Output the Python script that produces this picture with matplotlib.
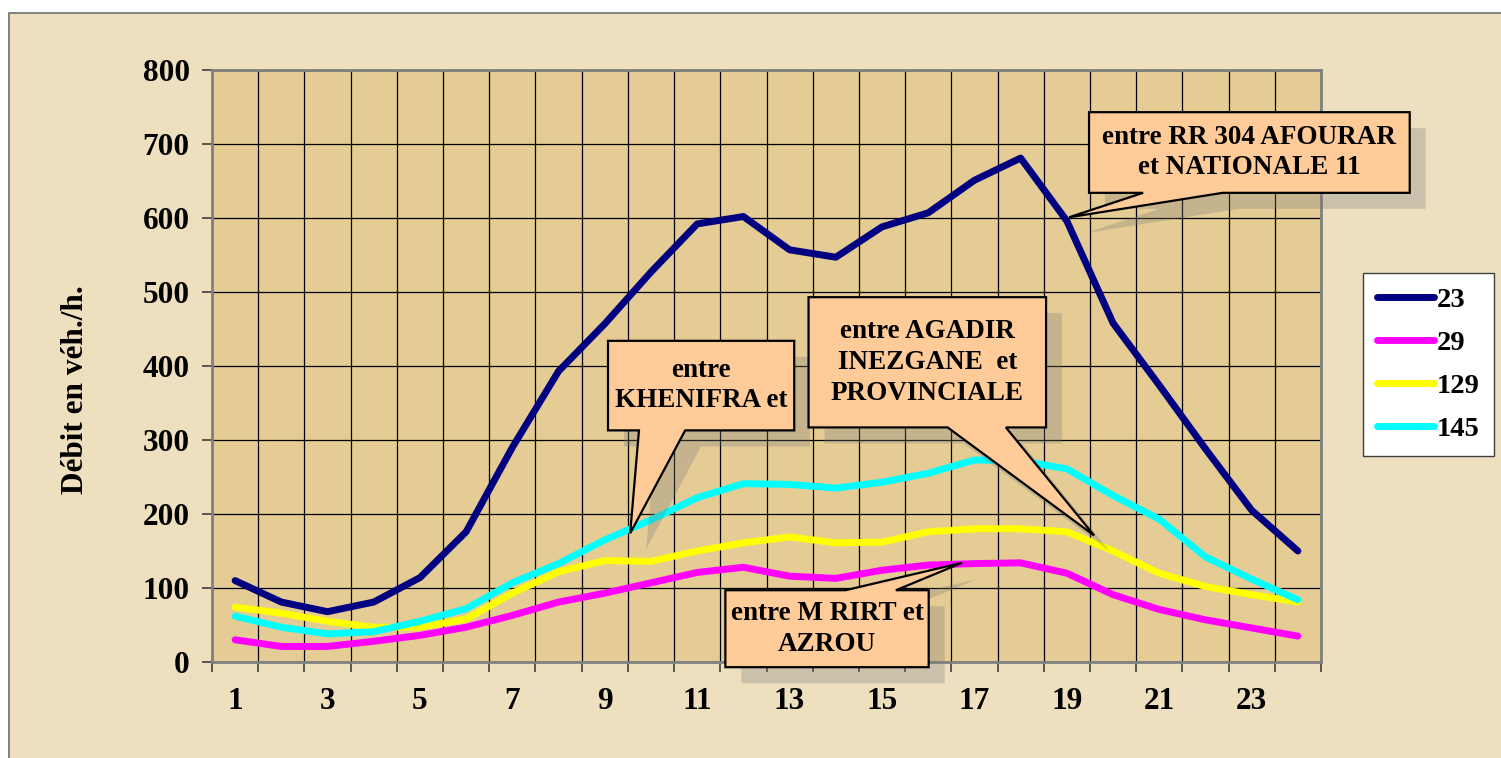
import numpy as np
import matplotlib
matplotlib.use('Agg')
import matplotlib.pyplot as plt
from matplotlib.patches import Polygon, Rectangle
from matplotlib.transforms import ScaledTranslation

# hourly flows (veh/h), one list per counting station
hours = list(range(1, 25))
s23 = [110, 81, 68, 81, 114, 176, 290, 393, 457, 527, 592, 602,
       557, 547, 588, 607, 651, 681, 596, 458, 374, 288, 205, 150]
s29 = [30, 21, 21, 28, 36, 47, 63, 81, 93, 107, 121, 128,
       116, 113, 124, 131, 133, 134, 120, 91, 71, 57, 46, 35]
s129 = [74, 66, 55, 47, 47, 58, 93, 122, 137, 136, 150, 161,
        169, 161, 162, 176, 180, 180, 176, 150, 120, 102, 91, 81]
s145 = [62, 47, 38, 41, 55, 72, 107, 133, 165, 192, 222, 241,
        240, 235, 243, 255, 273, 272, 261, 225, 193, 142, 112, 84]
series_names = ['23', '29', '129', '145']
series_colors = ['#000080', '#FF00FF', '#FFFF00', '#00FFFF']

y_ticks = [0, 100, 200, 300, 400, 500, 600, 700, 800]
x_labels = [1, 3, 5, 7, 9, 11, 13, 15, 17, 19, 21, 23]

# callout texts and their anchor points (data coords: box x0,x1,y0,y1, pointer base x, tip)
callouts = [
    ('entre RR 304 AFOURAR\net NATIONALE 11', (19.48, 26.42, 634, 743), (20.65, 22.37), (19.05, 601), 'bottom'),
    ('entre\nKHENIFRA et', (9.07, 13.10, 313, 434), (9.74, 10.74), (9.55, 174), 'bottom'),
    ('entre AGADIR\nINEZGANE  et\nPROVINCIALE', (13.41, 18.55, 317, 493), (16.42, 17.68), (19.59, 171), 'bottom'),
    ('entre M RIRT et\nAZROU', (11.61, 16.01, -7, 97), (14.21, 15.30), (16.73, 134), 'top'),
]

W, H = 1501, 758
plt.rcParams['font.family'] = ['Liberation Serif', 'DejaVu Serif']
plt.rcParams['font.weight'] = 'bold'

fig = plt.figure(figsize=(W/100, H/100), dpi=100, facecolor='white')
# parchment page with a thin frame
fig.patches.append(Rectangle((9/W, -0.01), 1.0, (H-13)/H + 0.01, transform=fig.transFigure,
                             facecolor='#EEDFBE', edgecolor='#6E6E6E', lw=1.2, zorder=-10))

ax = fig.add_axes([212/W, (H-662)/H, 1109/W, 592/H])
ax.set_facecolor('#E5CC94')

for vals, name, col in zip([s23, s29, s129, s145], series_names, series_colors):
    ax.plot(hours, vals, color=col, lw=5, label=name, zorder=3,
            solid_capstyle='round', solid_joinstyle='round')

ax.set_xlim(0.5, 24.5)
ax.set_ylim(0, 800)
ax.set_yticks(y_ticks)
ax.set_xticks(np.arange(0.5, 25, 1))
ax.set_xticklabels([])
ax.set_xticks(x_labels, minor=True)
ax.set_xticklabels([str(v) for v in x_labels], minor=True)
ax.tick_params(axis='x', which='major', direction='out', length=7, width=1.2, color='#404040')
ax.tick_params(axis='x', which='minor', length=0, pad=18, labelsize=22.5)
ax.tick_params(axis='y', direction='out', length=7, width=1.2, color='#404040', pad=9, labelsize=22.5)
for lab in ax.get_xticklabels(minor=True) + ax.get_yticklabels():
    lab.set_fontweight('bold')

ax.grid(True, which='major', color='black', lw=0.9)
ax.set_axisbelow(True)
for sp in ax.spines.values():
    sp.set_color('#808080')
    sp.set_linewidth(2)

ax.set_ylabel('Débit en véh./h.', fontsize=22.5, fontweight='bold')
ax.yaxis.set_label_coords(-0.11, 0.46)

shadow_tr = ax.transData + ScaledTranslation(16/100, -16/100, fig.dpi_scale_trans)
for text, (x0, x1, y0, y1), (b0, b1), tip, side in callouts:
    if side == 'bottom':
        pts = [(x0, y1), (x1, y1), (x1, y0), (b1, y0), tip, (b0, y0), (x0, y0)]
    else:
        pts = [(x0, y1), (b0, y1), tip, (b1, y1), (x1, y1), (x1, y0), (x0, y0)]
    ax.add_patch(Polygon(pts, closed=True, transform=shadow_tr, facecolor='#7A7A7A',
                         edgecolor='none', alpha=0.3, zorder=4, clip_on=False))
    ax.add_patch(Polygon(pts, closed=True, facecolor='#FFCC99', edgecolor='black',
                         lw=1.6, zorder=5, clip_on=False))
    ax.text((x0 + x1) / 2, (y0 + y1) / 2, text, ha='center', va='center', fontsize=19.5,
            fontweight='bold', linespacing=1.3, zorder=6, clip_on=False)

leg = ax.legend(loc='upper left', bbox_to_anchor=(1363/W, (H-273)/H), bbox_transform=fig.transFigure,
                fontsize=20.5, frameon=True, fancybox=False, edgecolor='#404040', framealpha=1,
                handlelength=2.0, handletextpad=0.1, labelspacing=0.6, borderpad=0.5,
                borderaxespad=0)
leg.get_frame().set_linewidth(1.0)
for t in leg.get_texts():
    t.set_fontweight('bold')

fig.savefig('out.png', dpi=100, facecolor=fig.get_facecolor())
